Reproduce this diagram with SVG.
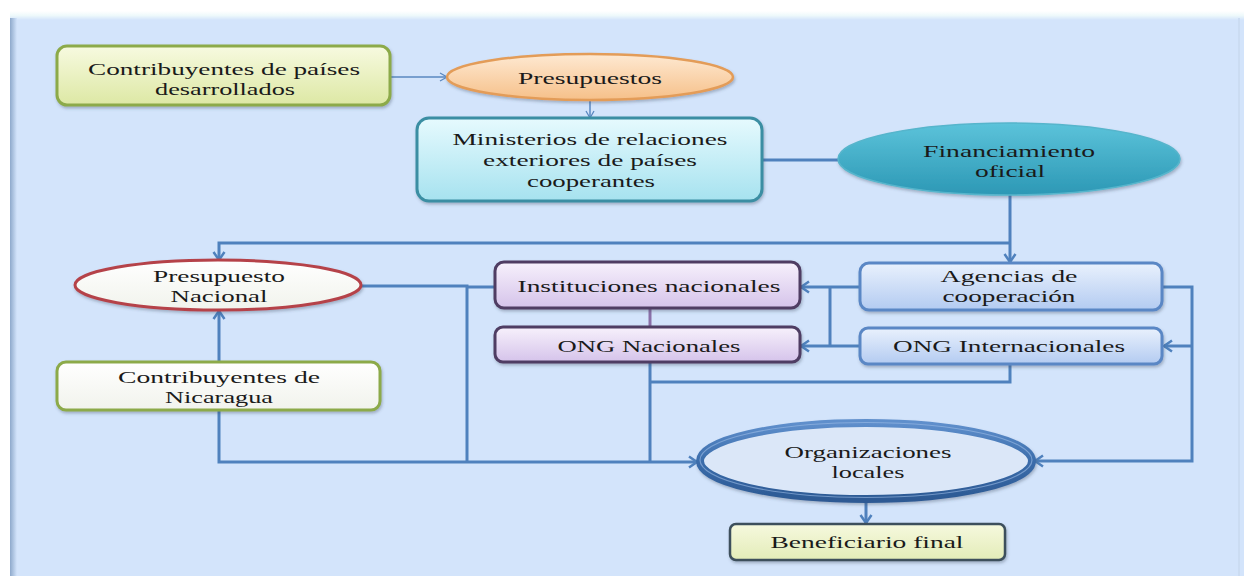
<svg xmlns="http://www.w3.org/2000/svg" width="1244" height="576" viewBox="0 0 1244 576">
<defs>
<linearGradient id="gGreen" x1="0" y1="0" x2="0" y2="1"><stop offset="0" stop-color="#f7fae0"/><stop offset="1" stop-color="#dde8a4"/></linearGradient>
<linearGradient id="gOrange" x1="0" y1="0" x2="0" y2="1"><stop offset="0" stop-color="#fee9d2"/><stop offset="1" stop-color="#f6c089"/></linearGradient>
<linearGradient id="gCyan" x1="0" y1="0" x2="0" y2="1"><stop offset="0" stop-color="#e6fafe"/><stop offset="1" stop-color="#a6e2ef"/></linearGradient>
<linearGradient id="gTeal" x1="0" y1="0" x2="0" y2="1"><stop offset="0" stop-color="#5cc3da"/><stop offset="1" stop-color="#2c98b5"/></linearGradient>
<linearGradient id="gWhite" x1="0" y1="0" x2="0" y2="1"><stop offset="0" stop-color="#ffffff"/><stop offset="1" stop-color="#f1f3ec"/></linearGradient>
<linearGradient id="gPurple" x1="0" y1="0" x2="0" y2="1"><stop offset="0" stop-color="#f7f1fc"/><stop offset="1" stop-color="#d5c3ea"/></linearGradient>
<linearGradient id="gBlue" x1="0" y1="0" x2="0" y2="1"><stop offset="0" stop-color="#e9f1fd"/><stop offset="1" stop-color="#b3cbf1"/></linearGradient>
<linearGradient id="gBenef" x1="0" y1="0" x2="0" y2="1"><stop offset="0" stop-color="#f6f9de"/><stop offset="1" stop-color="#e3ecb8"/></linearGradient>
<linearGradient id="gTop" x1="0" y1="0" x2="0" y2="1"><stop offset="0" stop-color="#ffffff"/><stop offset="0.5" stop-color="#eef9fb"/><stop offset="1" stop-color="#d3e4fb"/></linearGradient>
<linearGradient id="gLeft" x1="0" y1="0" x2="1" y2="0"><stop offset="0" stop-color="#8ea9cb"/><stop offset="1" stop-color="#d3e4fb"/></linearGradient>
<linearGradient id="gRing" x1="0" y1="0" x2="0" y2="1"><stop offset="0" stop-color="#5f8fcc"/><stop offset="0.5" stop-color="#3b6dab"/><stop offset="1" stop-color="#2d5a94"/></linearGradient>
<filter id="sh" x="-10%" y="-20%" width="120%" height="150%"><feDropShadow dx="1" dy="2" stdDeviation="1.5" flood-color="#3a4a60" flood-opacity="0.35"/></filter>
<marker id="ah" markerUnits="userSpaceOnUse" markerWidth="14" markerHeight="14" refX="11" refY="7" orient="auto"><path d="M3,1.5 L11,7 L3,12.5" fill="none" stroke="#4f81bd" stroke-width="2.5"/></marker>
<marker id="ahs" markerUnits="userSpaceOnUse" markerWidth="12" markerHeight="12" refX="10" refY="6" orient="auto"><path d="M3,2 L10,6 L3,10" fill="none" stroke="#5a88c0" stroke-width="1.3"/></marker>
<style>
text{font-family:"Liberation Serif","Times New Roman",serif;font-size:17px;fill:#1a1a1a;text-anchor:middle}
.c{fill:none;stroke:#4f81bd;stroke-width:3}
.t{fill:none;stroke:#5a88c0;stroke-width:1.5}
</style>
</defs>
<rect width="1244" height="576" fill="#ffffff"/>
<rect x="10" y="12" width="1234" height="564" fill="#d3e4fb"/>
<rect x="10" y="11" width="1234" height="9" fill="url(#gTop)"/>
<rect x="10" y="18" width="7" height="558" fill="url(#gLeft)"/>
<rect x="1238" y="18" width="2" height="558" fill="#cbdcf2"/>

<g id="connectors">
<path class="t" d="M390,77 H447" marker-end="url(#ahs)"/>
<path class="t" d="M590,100 V118" marker-end="url(#ahs)"/>
<path class="c" stroke-width="2" d="M762,160 H838"/>
<path class="c" d="M1010,195 V262" marker-end="url(#ah)"/>
<path class="c" d="M1010,243 H219 V260" marker-end="url(#ah)"/>
<path class="c" d="M219,362 V311" marker-end="url(#ah)"/>
<path class="c" d="M219,410 V462 H697" marker-end="url(#ah)"/>
<path class="c" d="M362,286 H467 V462"/>
<path class="c" d="M495,287 H467"/>
<path class="c" d="M650,362 V462"/>
<path class="c" d="M1010,364 V382 H650"/>
<path fill="none" stroke="#8a70a8" stroke-width="3" d="M650,308 V327"/>
<path class="c" d="M860,287 H801" marker-end="url(#ah)"/>
<path class="c" d="M860,346 H801" marker-end="url(#ah)"/>
<path class="c" stroke-width="5" d="M830,286 V347"/>
<path class="c" d="M1162,287 H1192 V461 H1035" marker-end="url(#ah)"/>
<path class="c" d="M1192,346 H1164" marker-end="url(#ah)"/>
<path class="c" d="M866,500 V523" marker-end="url(#ah)"/>
</g>

<g id="contribuyentes-desarrollados">
<rect x="57" y="46" width="333" height="59" rx="10" fill="url(#gGreen)" stroke="#8caa4a" stroke-width="3" filter="url(#sh)"/>
<text x="224" y="75" textLength="272" lengthAdjust="spacingAndGlyphs">Contribuyentes de países</text>
<text x="225" y="95" textLength="140" lengthAdjust="spacingAndGlyphs">desarrollados</text>
</g>

<g id="presupuestos">
<ellipse cx="590" cy="77" rx="143" ry="23" fill="url(#gOrange)" stroke="#e39c58" stroke-width="2.5" filter="url(#sh)"/>
<text x="590" y="84" textLength="144" lengthAdjust="spacingAndGlyphs">Presupuestos</text>
</g>

<g id="ministerios">
<rect x="417" y="118" width="345" height="83" rx="12" fill="url(#gCyan)" stroke="#3a8ea3" stroke-width="3" filter="url(#sh)"/>
<text x="590" y="145" textLength="275" lengthAdjust="spacingAndGlyphs">Ministerios de relaciones</text>
<text x="590" y="166" textLength="214" lengthAdjust="spacingAndGlyphs">exteriores de países</text>
<text x="591" y="187" textLength="128" lengthAdjust="spacingAndGlyphs">cooperantes</text>
</g>

<g id="financiamiento">
<ellipse cx="1009" cy="159" rx="171" ry="36" fill="url(#gTeal)" stroke="#56b5cc" stroke-width="1.5" filter="url(#sh)"/>
<text x="1009" y="157" textLength="172" lengthAdjust="spacingAndGlyphs">Financiamiento</text>
<text x="1010" y="177" textLength="70" lengthAdjust="spacingAndGlyphs">oficial</text>
</g>

<g id="presupuesto-nacional">
<ellipse cx="218" cy="285" rx="143" ry="25" fill="url(#gWhite)" stroke="#b5434a" stroke-width="3" filter="url(#sh)"/>
<text x="219" y="282" textLength="132" lengthAdjust="spacingAndGlyphs">Presupuesto</text>
<text x="219" y="302" textLength="97" lengthAdjust="spacingAndGlyphs">Nacional</text>
</g>

<g id="contribuyentes-nicaragua">
<rect x="57" y="362" width="323" height="48" rx="9" fill="url(#gWhite)" stroke="#8caa4a" stroke-width="3" filter="url(#sh)"/>
<text x="219" y="383" textLength="202" lengthAdjust="spacingAndGlyphs">Contribuyentes de</text>
<text x="219" y="403" textLength="108" lengthAdjust="spacingAndGlyphs">Nicaragua</text>
</g>

<g id="instituciones-nacionales">
<rect x="495" y="262" width="305" height="46" rx="9" fill="url(#gPurple)" stroke="#4f3d63" stroke-width="3" filter="url(#sh)"/>
<text x="649" y="292" textLength="263" lengthAdjust="spacingAndGlyphs">Instituciones nacionales</text>
</g>

<g id="ong-nacionales">
<rect x="495" y="327" width="305" height="35" rx="8" fill="url(#gPurple)" stroke="#4f3d63" stroke-width="3" filter="url(#sh)"/>
<text x="649" y="352" textLength="183" lengthAdjust="spacingAndGlyphs">ONG Nacionales</text>
</g>

<g id="agencias">
<rect x="860" y="263" width="302" height="47" rx="9" fill="url(#gBlue)" stroke="#5a87c5" stroke-width="3" filter="url(#sh)"/>
<text x="1009" y="282" textLength="137" lengthAdjust="spacingAndGlyphs">Agencias de</text>
<text x="1009" y="302" textLength="133" lengthAdjust="spacingAndGlyphs">cooperación</text>
</g>

<g id="ong-internacionales">
<rect x="860" y="328" width="302" height="36" rx="8" fill="url(#gBlue)" stroke="#5a87c5" stroke-width="3" filter="url(#sh)"/>
<text x="1009" y="352" textLength="232" lengthAdjust="spacingAndGlyphs">ONG Internacionales</text>
</g>

<g id="organizaciones-locales">
<ellipse cx="866" cy="461" rx="166" ry="38" fill="#dbe7f8" stroke="url(#gRing)" stroke-width="8" filter="url(#sh)"/>
<ellipse cx="866" cy="460" rx="166" ry="37.5" fill="none" stroke="#9dbde6" stroke-width="1.2" stroke-opacity="0.6"/>
<text x="868" y="458" textLength="167" lengthAdjust="spacingAndGlyphs">Organizaciones</text>
<text x="868" y="478" textLength="73" lengthAdjust="spacingAndGlyphs">locales</text>
</g>

<g id="beneficiario-final">
<rect x="730" y="524" width="275" height="36" rx="6" fill="url(#gBenef)" stroke="#3c4f5c" stroke-width="2.5" filter="url(#sh)"/>
<text x="867" y="548" textLength="193" lengthAdjust="spacingAndGlyphs">Beneficiario final</text>
</g>
</svg>
